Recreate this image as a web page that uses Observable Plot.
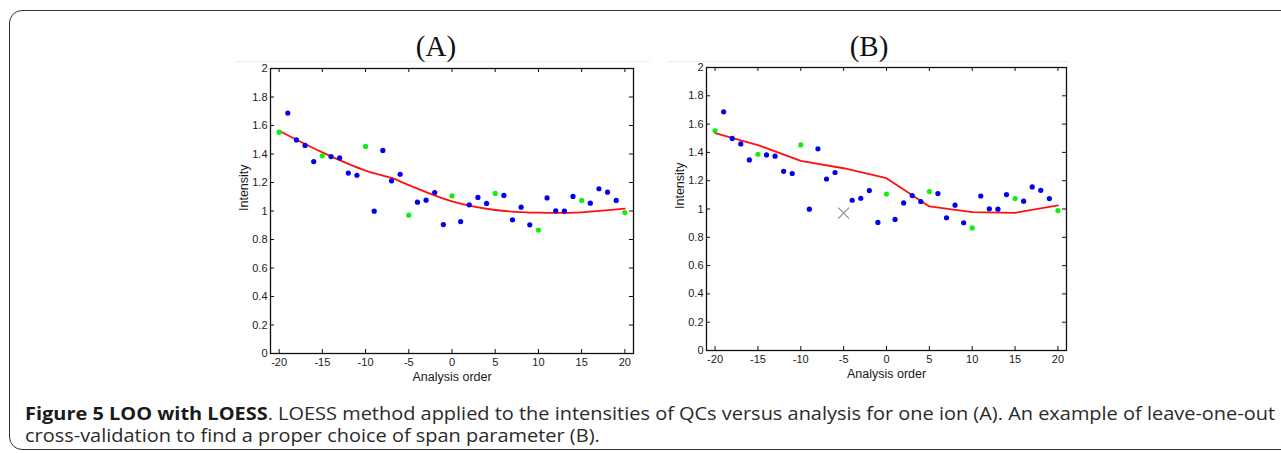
<!DOCTYPE html>
<html>
<head>
<meta charset="utf-8">
<script src="https://cdn.jsdelivr.net/npm/d3@7"></script>
<script src="https://cdn.jsdelivr.net/npm/@observablehq/plot@0.6"></script>
<style>
  html, body { margin: 0; padding: 0; background: #fff; }
  body { width: 1281px; height: 453px; overflow: hidden; position: relative; font-family: "Liberation Sans", Arial, sans-serif; }
  #frame { position: absolute; left: 9px; top: 10px; width: 1330px; height: 440px; box-sizing: border-box; border: 1.5px solid #333; border-radius: 13px; }
  .title { position: absolute; top: 32px; font-family: "Liberation Serif", "DejaVu Serif", serif; font-size: 29px; line-height: 1; color: #111; transform: translateX(-50%); white-space: nowrap; }
  .panel { position: absolute; }
  .panel svg { display: block; }
  .seam { position: absolute; height: 1px; background: #ececec; }
  #caption { position: absolute; left: 25px; top: 402px; font-family: "Open Sans", "Noto Sans", sans-serif; font-size: 18px; line-height: 22px; color: #2a2a2a; white-space: nowrap; transform-origin: 0 0; }
  #caption b { font-weight: 700; color: #1a1a1a; }
</style>
</head>
<body>
<div id="frame"></div>
<div class="seam" style="left:236px; top:61px; width:414px;"></div>
<div class="seam" style="left:668px; top:61px; width:400px;"></div>
<div class="title" id="titleA" style="left:436px;"></div>
<div class="title" id="titleB" style="left:869px;"></div>
<div class="panel" id="panelA" style="left:235px; top:58px;"></div>
<div class="panel" id="panelB" style="left:671px; top:57px;"></div>
<div id="caption"><span id="line1"><b>Figure 5 LOO with LOESS</b>. LOESS method applied to the intensities of QCs versus analysis for one ion (A). An example of leave-one-out</span><br><span id="line2">cross-validation to find a proper choice of span parameter (B).</span></div>
<script>
// ---------- data ----------
const panelTitles = ["(A)", "(B)"];
const xLabel = "Analysis order";
const yLabel = "Intensity";

const analysisOrder = [-20, -19, -18, -17, -16, -15, -14, -13, -12, -11, -10, -9, -8, -7, -6, -5, -4, -3, -2, -1, 0,
                       1, 2, 3, 4, 5, 6, 7, 8, 9, 10, 11, 12, 13, 14, 15, 16, 17, 18, 19, 20];
const intensity = [1.553, 1.687, 1.499, 1.460, 1.347, 1.387, 1.382, 1.373, 1.266, 1.251, 1.453, 0.999, 1.425, 1.212, 1.258, 0.971, 1.062, 1.076, 1.130, 0.905, 1.106,
                   0.926, 1.043, 1.095, 1.053, 1.123, 1.109, 0.938, 1.027, 0.903, 0.866, 1.092, 1.001, 0.999, 1.102, 1.074, 1.055, 1.156, 1.132, 1.074, 0.989];
// QC samples drawn in green
const qcOrders = [-20, -15, -10, -5, 0, 5, 10, 15, 20];

// LOESS fits
const loessOrderA = [-20, -15, -10, -7, -5, 0, 5, 10, 15, 20];
const loessA = [1.563, 1.411, 1.283, 1.232, 1.182, 1.068, 1.007, 0.988, 0.991, 1.016];
const loessOrderB = [-20, -15, -10, -5, 0, 5, 10, 15, 20];
const loessB = [1.537, 1.452, 1.340, 1.288, 1.218, 1.018, 0.978, 0.973, 1.025];

// left-out sample in panel B
const leftOutOrder = [-5];
const leftOutIntensity = [0.971];

const xTicks = [-20, -15, -10, -5, 0, 5, 10, 15, 20];
const yTicks = [0, 0.2, 0.4, 0.6, 0.8, 1, 1.2, 1.4, 1.6, 1.8, 2];

// ---------- build tables ----------
const points = analysisOrder.map((o, i) => ({order: o, intensity: intensity[i], qc: qcOrders.includes(o)}));
const fitA = loessOrderA.map((o, i) => ({order: o, intensity: loessA[i]}));
const fitB = loessOrderB.map((o, i) => ({order: o, intensity: loessB[i]}));
const leftOut = leftOutOrder.map((o, i) => ({order: o, intensity: leftOutIntensity[i]}));

document.getElementById("titleA").textContent = panelTitles[0];
document.getElementById("titleB").textContent = panelTitles[1];

function panel({innerW, innerH, pts, fit, curve, extra}) {
  const ml = 35, mr = 10, mt = 10, mb = 35, tick = 4;
  const axisColor = "#111";
  return Plot.plot({
    width: ml + innerW + mr,
    height: mt + innerH + mb,
    marginLeft: ml, marginRight: mr, marginTop: mt, marginBottom: mb,
    x: {domain: [-21, 21]},
    y: {domain: [0, 2]},
    style: {fontFamily: "'Liberation Sans', Arial, sans-serif", fontSize: "11px", color: "#1a1a1a", background: "transparent", overflow: "visible"},
    marks: [
      // inward ticks on all four sides (MATLAB box style)
      Plot.tickX(xTicks, {x: d => d, stroke: axisColor, strokeWidth: 1, insetTop: innerH - tick}),
      Plot.tickX(xTicks, {x: d => d, stroke: axisColor, strokeWidth: 1, insetBottom: innerH - tick}),
      Plot.tickY(yTicks, {y: d => d, stroke: axisColor, strokeWidth: 1, insetRight: innerW - tick}),
      Plot.tickY(yTicks, {y: d => d, stroke: axisColor, strokeWidth: 1, insetLeft: innerW - tick}),
      Plot.axisX(xTicks, {tickSize: 0, tickPadding: 5, tickFormat: d => String(d), label: null}),
      Plot.axisY(yTicks, {tickSize: 0, tickPadding: 3, tickFormat: d => String(d), label: null}),
      Plot.text([xLabel], {frameAnchor: "bottom", dy: 19, lineAnchor: "top", fontSize: 12.5}),
      Plot.text([yLabel], {frameAnchor: "left", dx: -27, rotate: -90, fontSize: 12.5}),
      Plot.line(fit, {x: "order", y: "intensity", stroke: "#ff1010", strokeWidth: 1.8, curve}),
      Plot.dot(pts.filter(d => !d.qc), {x: "order", y: "intensity", r: 2.6, fill: "#0000f0", stroke: null}),
      Plot.dot(pts.filter(d => d.qc), {x: "order", y: "intensity", r: 2.6, fill: "#10f010", stroke: null}),
      ...extra,
      Plot.frame({stroke: axisColor, strokeWidth: 1.3})
    ]
  });
}

document.getElementById("panelA").append(panel({
  innerW: 363, innerH: 285, pts: points, fit: fitA, curve: "catmull-rom", extra: []
}));

document.getElementById("panelB").append(panel({
  innerW: 360, innerH: 283,
  pts: points.filter(d => !leftOutOrder.includes(d.order)),
  fit: fitB, curve: "linear",
  extra: [Plot.dot(leftOut, {x: "order", y: "intensity", symbol: "times", r: 5, stroke: "#8a8a8a", strokeWidth: 1.1})]
}));

// fit caption line 1 to the reference's width (x 25 → 1275)
const cap = document.getElementById("caption");
const w1 = document.getElementById("line1").getBoundingClientRect().width;
cap.style.transform = `scaleX(${1250 / w1})`;
</script>
</body>
</html>
